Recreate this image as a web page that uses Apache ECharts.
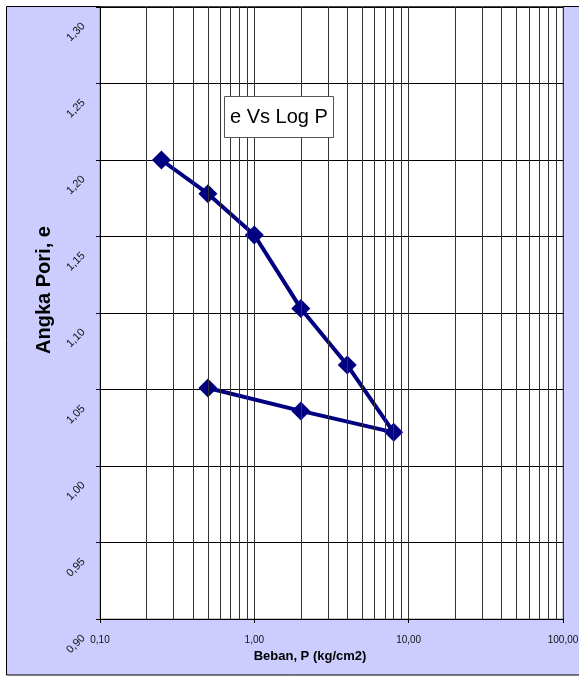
<!DOCTYPE html>
<html>
<head>
<meta charset="utf-8">
<script src="https://cdn.jsdelivr.net/npm/echarts@6/dist/echarts.min.js"></script>
<style>
  html, body { margin: 0; padding: 0; background: #fff; overflow: hidden; }
  #chart { width: 579px; height: 677px; }
</style>
</head>
<body>
<div id="chart"></div>
<script>
// Consolidation test: void ratio against load (log scale), loading then unloading
const pressure = [0.25, 0.5, 1, 2, 4, 8, 2, 0.5];
const voidRatio = [1.200, 1.178, 1.151, 1.103, 1.066, 1.022, 1.036, 1.051];

const xMin = 0.1, xMax = 100;
const yMin = 0.90, yMax = 1.30, yStep = 0.05;

const titleText = 'e Vs Log P';
const xName = 'Beban, P (kg/cm2)';
const yName = 'Angka Pori, e';

// minor log gridlines (2..9 within each decade)
const minorGrid = [];
for (let d = 0.1; d < xMax - 1e-9; d *= 10) {
  for (let k = 2; k <= 9; k++) minorGrid.push(+(d * k).toPrecision(3));
}

const FONT = '"Liberation Sans", Arial, sans-serif';
const comma = v => v.toFixed(2).replace('.', ',');

const chart = echarts.init(document.getElementById('chart'), null, { renderer: 'canvas' });

chart.setOption({
  animation: false,
  backgroundColor: '#ffffff',
  textStyle: { fontFamily: FONT },
  graphic: [{
    type: 'rect',
    z: -100,
    shape: { x: 6.5, y: 6.5, width: 620, height: 668.5 },
    style: { fill: '#ccccff', stroke: '#000', lineWidth: 1 }
  }],
  title: {
    text: titleText,
    left: 224,
    top: 96,
    padding: [11, 6, 11, 6],
    backgroundColor: '#ffffff',
    borderColor: '#555',
    borderWidth: 1,
    textStyle: { fontFamily: FONT, fontSize: 20, fontWeight: 'normal', color: '#000' }
  },
  grid: {
    left: 100, top: 7, right: 16, bottom: 58,
    show: true,
    backgroundColor: '#ffffff',
    borderColor: '#888',
    borderWidth: 1,
    outerBoundsMode: 'none',
    containLabel: false
  },
  xAxis: {
    type: 'log',
    logBase: 10,
    min: xMin,
    max: xMax,
    name: xName,
    nameLocation: 'middle',
    nameGap: 25,
    nameTextStyle: { fontFamily: FONT, fontSize: 13, fontWeight: 'bold', color: '#000', padding: [0, 43, 0, 0] },
    axisLine: { show: true, lineStyle: { color: '#000', width: 1 } },
    axisTick: { show: true, inside: false, length: 4, lineStyle: { color: '#000' } },
    axisLabel: { show: true, interval: 0, margin: 16, fontFamily: FONT, fontSize: 10, color: '#111', formatter: comma },
    splitLine: { show: true, lineStyle: { color: '#333', width: 1 } },
    minorTick: { show: false },
    minorSplitLine: { show: false }
  },
  yAxis: {
    type: 'value',
    min: yMin,
    max: yMax,
    interval: yStep,
    name: yName,
    nameLocation: 'middle',
    nameGap: 46,
    nameTextStyle: { fontFamily: FONT, fontSize: 20, fontWeight: 'bold', color: '#000', padding: [0, 0, 0, 46] },
    axisLine: { show: true, lineStyle: { color: '#000', width: 1 } },
    axisTick: { show: true, inside: false, length: 4, lineStyle: { color: '#000' } },
    axisLabel: {
      show: true, interval: 0, rotate: 45, margin: -1,
      align: 'center', verticalAlign: 'middle',
      padding: [0, 71, 0, 0],
      fontFamily: FONT, fontSize: 11, color: '#111',
      formatter: comma
    },
    splitLine: { show: true, lineStyle: { color: '#000', width: 1 } }
  },
  series: [
    {
      // minor vertical gridlines of the log axis
      type: 'line',
      data: [],
      z: 1,
      silent: true,
      markLine: {
        silent: true,
        symbol: ['none', 'none'],
        label: { show: false },
        emphasis: { disabled: true },
        lineStyle: { color: '#333', width: 1, type: 'solid' },
        data: minorGrid.map(v => ({ xAxis: v }))
      }
    },
    {
      type: 'line',
      z: 3,
      data: pressure.map((p, i) => [p, voidRatio[i]]),
      symbol: 'diamond',
      symbolSize: 19,
      showSymbol: true,
      itemStyle: { color: '#000080' },
      lineStyle: { color: '#000080', width: 4 }
    }
  ]
});
</script>
</body>
</html>
